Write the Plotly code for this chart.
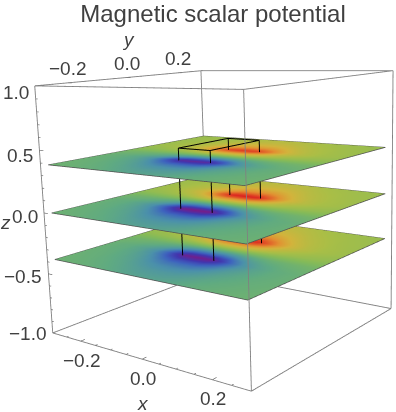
import numpy as np
import plotly.graph_objects as go

TITLE = "Magnetic scalar potential"
X_RANGE = [-0.3, 0.3]
Y_RANGE = [-0.3, 0.3]
Z_RANGE = [-1.0, 1.0]
MAJOR_XY = [-0.2, 0.0, 0.2]
MINOR_XY = [-0.3, -0.25, -0.15, -0.1, -0.05, 0.05, 0.1, 0.15, 0.25, 0.3]
MAJOR_Z = [-1.0, -0.5, 0.0, 0.5, 1.0]
MINOR_Z = [-0.9, -0.8, -0.7, -0.6, -0.4, -0.3, -0.2, -0.1, 0.1, 0.2, 0.3, 0.4, 0.6, 0.7, 0.8, 0.9]
XY_LABELS = ["\u22120.2", "0.0", "0.2"]
Z_LABELS = ["\u22121.0", "\u22120.5", "0.0", "0.5", "1.0"]

PLANE_HALF = 0.2876
PLANE_Z = [0.382, -0.004, -0.385]
PLANE_GAIN = [0.9, 1.0, 0.97]
WIRE_X = [-0.0462, 0.0494]
WIRE_Y = [-0.098, 0.0921]
WIRE_TOP = 0.4787
WIRE_BOTTOM = -0.40

ABS_X = [0.0, 0.04, 0.07, 0.10, 0.13, 0.17, 0.22, 0.2876]
POS_Y = [0.0, 0.03, 0.055, 0.075, 0.095, 0.115, 0.135, 0.16, 0.19, 0.23, 0.2876]
POTENTIAL = [
    [0.00, 0.00, 0.00, 0.00, 0.00, 0.00, 0.00, 0.00],
    [0.34, 0.33, 0.29, 0.23, 0.18, 0.13, 0.10, 0.07],
    [0.60, 0.58, 0.50, 0.38, 0.28, 0.20, 0.14, 0.10],
    [0.84, 0.82, 0.70, 0.50, 0.35, 0.25, 0.17, 0.12],
    [1.00, 0.97, 0.80, 0.58, 0.40, 0.28, 0.19, 0.14],
    [0.88, 0.85, 0.72, 0.54, 0.39, 0.27, 0.19, 0.14],
    [0.72, 0.70, 0.60, 0.46, 0.35, 0.26, 0.19, 0.14],
    [0.57, 0.55, 0.48, 0.39, 0.31, 0.24, 0.18, 0.14],
    [0.45, 0.43, 0.39, 0.33, 0.27, 0.22, 0.17, 0.14],
    [0.35, 0.34, 0.31, 0.27, 0.23, 0.19, 0.16, 0.13],
    [0.27, 0.26, 0.24, 0.21, 0.18, 0.16, 0.14, 0.12],
]

RAINBOW = [
    [0.0, "rgb(120,28,134)"], [0.1, "rgb(65,55,175)"], [0.2, "rgb(62,100,190)"],
    [0.3, "rgb(75,145,170)"], [0.4, "rgb(95,170,130)"], [0.5, "rgb(130,186,90)"],
    [0.6, "rgb(170,190,70)"], [0.7, "rgb(210,180,60)"], [0.8, "rgb(225,145,50)"],
    [0.9, "rgb(225,90,40)"], [1.0, "rgb(219,33,32)"],
]

TEXT = "#404040"
BOX = "#808080"
FONT = "Liberation Sans"

x_nodes = [-v for v in ABS_X[:0:-1]] + ABS_X
y_nodes = [-v for v in POS_Y[:0:-1]] + POS_Y
q = np.array(POTENTIAL)
half = np.hstack([q[:, :0:-1], q])
grid = np.vstack([-half[:0:-1], half])

fig = go.Figure()
for z0, gain in zip(PLANE_Z, PLANE_GAIN):
    fig.add_trace(go.Surface(
        x=x_nodes, y=y_nodes, z=np.full(grid.shape, z0), surfacecolor=grid * gain,
        cmin=-1, cmax=1, colorscale=RAINBOW, showscale=False, hoverinfo="skip",
        lighting=dict(ambient=1, diffuse=0, specular=0, fresnel=0, roughness=1),
    ))
    e = PLANE_HALF
    fig.add_trace(go.Scatter3d(
        x=[-e, e, e, -e, -e], y=[-e, -e, e, e, -e], z=[z0] * 5, mode="lines",
        line=dict(color="#505050", width=1.5), hoverinfo="skip", showlegend=False,
    ))

def segs(pairs):
    xs, ys, zs = [], [], []
    for a, b in pairs:
        xs += [a[0], b[0], None]; ys += [a[1], b[1], None]; zs += [a[2], b[2], None]
    return xs, ys, zs

x0, x1 = X_RANGE; y0, y1 = Y_RANGE; z0, z1 = Z_RANGE
edges = [((x0, y0, z), (x1, y0, z)) for z in Z_RANGE[:]] + [((x0, y1, z), (x1, y1, z)) for z in Z_RANGE]
edges += [((x, y0, z), (x, y1, z)) for x in X_RANGE for z in Z_RANGE]
edges += [((x, y, z0), (x, y, z1)) for x in X_RANGE for y in Y_RANGE]
xs, ys, zs = segs(edges)
fig.add_trace(go.Scatter3d(x=xs, y=ys, z=zs, mode="lines", line=dict(color=BOX, width=1.8),
                           hoverinfo="skip", showlegend=False))

MAJ, MIN = 0.014, 0.007
ticks = []
for vals, L in ((MAJOR_XY, MAJ), (MINOR_XY, MIN)):
    ticks += [((v, y0, z0), (v, y0 + L, z0)) for v in vals]
    ticks += [((x0, v, z1), (x0 + L, v, z1)) for v in vals]
for vals, L in ((MAJOR_Z, MAJ), (MINOR_Z, MIN)):
    ticks += [((x0, y0, v), (x0 + L, y0, v)) for v in vals]
xs, ys, zs = segs(ticks)
fig.add_trace(go.Scatter3d(x=xs, y=ys, z=zs, mode="lines", line=dict(color="#666666", width=1.3),
                           hoverinfo="skip", showlegend=False))

wires = []
wx0, wx1 = WIRE_X; wy0, wy1 = WIRE_Y
corners = [(wx0, wy0), (wx1, wy0), (wx1, wy1), (wx0, wy1)]
for i, (a, b) in enumerate(corners):
    c, d = corners[(i + 1) % 4]
    wires.append(((a, b, WIRE_TOP), (c, d, WIRE_TOP)))
    wires.append(((a, b, WIRE_TOP), (a, b, WIRE_BOTTOM)))
xs, ys, zs = segs(wires)
fig.add_trace(go.Scatter3d(x=xs, y=ys, z=zs, mode="lines", line=dict(color="black", width=2),
                           hoverinfo="skip", showlegend=False))

def ann(x, y, z, text, xs=0, ys=0, xa="center", size=19):
    return dict(x=x, y=y, z=z, text=text, showarrow=False, xanchor=xa, yanchor="middle",
                xshift=xs, yshift=ys, font=dict(family=FONT, size=size, color=TEXT))

anns = []
for v, t in zip(MAJOR_XY, XY_LABELS):
    anns.append(ann(v, y0, z0, t, 1, -19))
    anns.append(ann(x0, v, z1, t, 0, 14))
for v, t, sh in zip(MAJOR_Z, Z_LABELS, (-1, -2.5, -4, -5.5, -7)):
    anns.append(ann(x0, y0, v, t, -4, sh, "right"))
anns.append(ann(0, y0, z0, "<i>x</i>", 1, -44))
anns.append(ann(x0, 0, z1, "<i>y</i>", 2, 38))
anns.append(ann(x0, y0, 0, "<i>z</i>", -38, -10))

hidden = dict(visible=False, showgrid=False, zeroline=False, showticklabels=False, showbackground=False)
fig.update_layout(
    width=396, height=696, margin=dict(l=0, r=0, t=0, b=0),
    paper_bgcolor="white", showlegend=False,
    title=dict(text=TITLE, x=213 / 396, xanchor="center", y=1 - 165 / 696, yanchor="middle",
               xref="paper", yref="paper", font=dict(family=FONT, size=24, color=TEXT)),
    scene=dict(
        dragmode="orbit",
        domain=dict(x=[0, 1], y=[0, 1]),
        xaxis=dict(range=X_RANGE, **hidden), yaxis=dict(range=Y_RANGE, **hidden), zaxis=dict(range=Z_RANGE, **hidden),
        aspectmode="manual", aspectratio=dict(x=1, y=1.0208, z=1.0059),
        camera=dict(eye=dict(x=2.0638, y=-2.6397, z=0.6811), center=dict(x=-0.1241, y=0, z=0.0118),
                    up=dict(x=0.0467, y=0, z=1), projection=dict(type="perspective")),
        annotations=anns,
        bgcolor="white",
    ),
)
fig.write_html("out.html", config=dict(displayModeBar=False),
               post_script="document.documentElement.style.overflow='hidden';document.body.style.overflow='hidden';document.body.style.margin='-151px 0 0 0';")
